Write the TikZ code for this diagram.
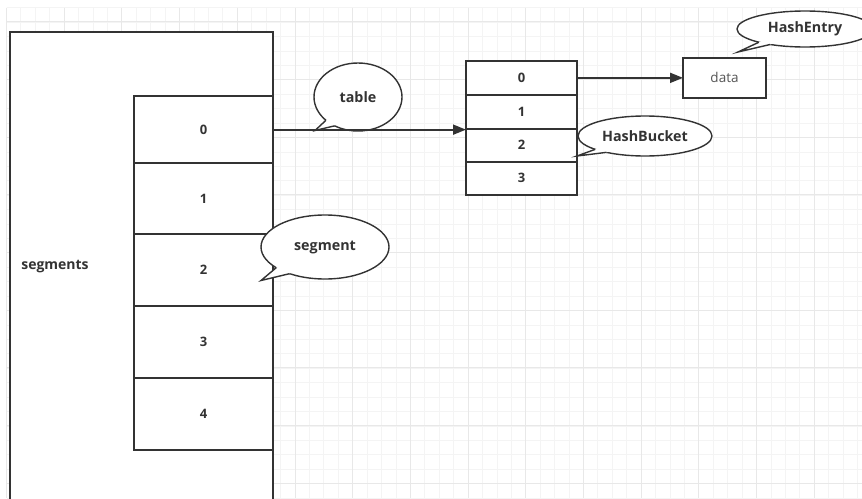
\documentclass[tikz,border=0pt]{standalone}
\usepackage{fontspec}
\setmainfont{Open Sans}[BoldFont={* Bold}]
\usetikzlibrary{arrows.meta,shapes.geometric,calc}
\definecolor{ink}{HTML}{333333}
\definecolor{gridminor}{HTML}{F4F4F4}
\definecolor{gridmajor}{HTML}{E8E8E8}
\definecolor{softtext}{HTML}{555555}

\tikzset{
  cell/.style={draw=ink, line width=1.8pt, fill=white, minimum width=139pt,
    inner sep=0pt, outer sep=0pt, anchor=north west, text=ink,
    font=\fontsize{13}{15}\selectfont\bfseries},
  bucket/.style={cell, minimum width=111pt},
  callout/.style={ellipse, draw=ink, line width=1.4pt, fill=white, inner sep=0pt,
    outer sep=0pt, text=ink, font=\fontsize{14.3}{16}\selectfont\bfseries},
  link/.style={draw=ink, line width=1.8pt, -{Triangle[length=13pt,width=10pt]}},
  tail/.style={draw=ink, line width=1.4pt, line join=miter},
}

% speech-bubble tail: #1 node, #2/#3 border angles, #4 tip
\newcommand{\bubbletail}[4]{%
  \fill[white] (#1.#2) -- (#4) -- (#1.#3)
    -- ($(#1.#3)!5pt!(#1.center)$) -- ($(#1.#2)!5pt!(#1.center)$) -- cycle;
  \draw[tail] (#1.#2) -- (#4) -- (#1.#3);
}

\begin{document}
\begin{tikzpicture}[x=1pt,y=-1pt]
\useasboundingbox (0,0) rectangle (862,498);
\clip (0,0) rectangle (862,498);
\fill[white] (0,0) rectangle (862,498);

% background grid
\foreach \i in {0,...,59}
  \draw[gridminor, line width=0.9pt] ({6.5+\i*14.425},7.7) -- ({6.5+\i*14.425},498);
\foreach \k in {0,...,34}
  \draw[gridminor, line width=0.9pt] (6.5,{7.7+\k*14.425}) -- (862,{7.7+\k*14.425});
\foreach \i in {0,...,14}
  \draw[gridmajor, line width=1pt] ({6.5+\i*57.7},7.7) -- ({6.5+\i*57.7},498);
\foreach \k in {0,...,8}
  \draw[gridmajor, line width=1pt] (6.5,{21.7+\k*57.7}) -- (862,{21.7+\k*57.7});

% outer segments frame (open at the bottom)
\fill[white] (10,32) rectangle (273,500);
\draw[ink, line width=1.8pt] (10,500) -- (10,32) -- (273,32) -- (273,500);
\node[text=ink, font=\fontsize{14}{16}\selectfont\bfseries] (segs) at (55,267) {segments};

% segment array
\node[cell, minimum height=67.3pt] (seg0) at (134,96)    {0};
\node[cell, minimum height=71pt]   (seg1) at (134,163.3) {1};
\node[cell, minimum height=71.7pt] (seg2) at (134,234.3) {2};
\node[cell, minimum height=72pt]   (seg3) at (134,306)   {3};
\node[cell, minimum height=72.3pt] (seg4) at (134,378)   {4};

% hash bucket array
\node[bucket, minimum height=34.3pt] (hb0) at (466,60.7)  {0};
\node[bucket, minimum height=33.7pt] (hb1) at (466,95)    {1};
\node[bucket, minimum height=33pt]   (hb2) at (466,128.7) {2};
\node[bucket, minimum height=33.3pt] (hb3) at (466,161.7) {3};

% entry
\node[draw=ink, line width=1.8pt, fill=white, anchor=north west, inner sep=0pt,
  outer sep=0pt, minimum width=83pt, minimum height=39.7pt, text=softtext,
  font=\fontsize{13.5}{15}\selectfont] (data) at (683,58) {data};

% callouts
\node[callout, minimum width=88pt, minimum height=68pt] (tbl) at (358,97) {table};
\coordinate (tblTip) at (315,130.5);
\bubbletail{tbl}{216}{231}{tblTip}

\node[callout, minimum width=128pt, minimum height=64pt] (segc) at (325,247) {segment};
\coordinate (segTip) at (261,280.5);
\bubbletail{segc}{203}{217}{segTip}

\node[callout, minimum width=134pt, minimum height=40pt] (hbc) at (645,136) {HashBucket};
\coordinate (hbTip) at (577,156);
\bubbletail{hbc}{195}{203}{hbTip}

\node[callout, minimum width=136pt, minimum height=36pt] (hec) at (805,29) {HashEntry};
\coordinate (heTip) at (738,52);
\bubbletail{hec}{196}{204}{heTip}

% pointers
\draw[link] (seg0.east) -- (seg0.east -| hb2.west);
\draw[link] (hb0.east) -- (data.west);
\end{tikzpicture}
\end{document}
